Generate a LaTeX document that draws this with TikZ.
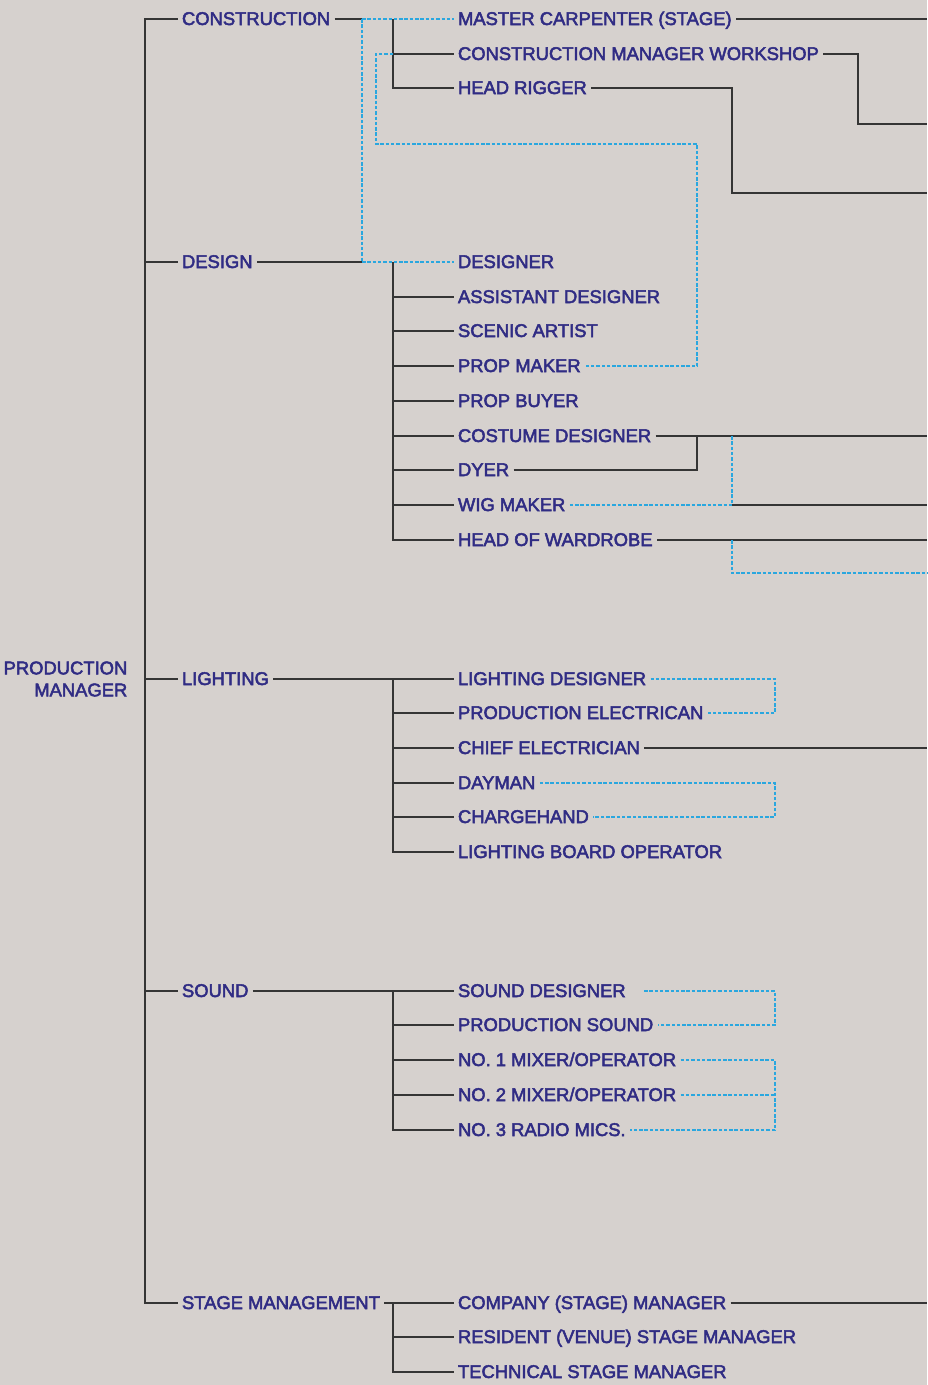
\documentclass[tikz,border=0pt]{standalone}
\usepackage{fontspec}
\setmainfont{Liberation Sans}
\newfontfamily\lblfont{Liberation Sans}
\newcommand{\strokeon}{\special{pdf:literal direct 2 Tr 0.5 w}}
\newcommand{\strokeoff}{\special{pdf:literal direct 0 Tr}}
\definecolor{bgc}{HTML}{D6D1CE}
\definecolor{txt}{HTML}{302C84}
\definecolor{dsh}{HTML}{2AA7DF}
\definecolor{lnc}{HTML}{353535}
\begin{document}
\begin{tikzpicture}[x=1pt,y=-1pt,
  lbl/.style={anchor=west, inner sep=0pt, outer xsep=4.5pt, text height=12pt, text depth=0pt,
    font=\lblfont\fontsize{18.4}{22}\selectfont, text=txt,
    execute at begin node=\strokeon, execute at end node=\strokeoff},
  head/.style={anchor=east, inner sep=0pt, align=right, font=\lblfont\fontsize{18.4}{22}\selectfont, text=txt,
    execute at begin node=\strokeon, execute at end node=\strokeoff},
  solid line/.style={draw=lnc, line width=1.3pt},
  dotted link/.style={draw=dsh, line width=1.2pt, dash pattern=on 3.5pt off 1.8pt}]
\fill[bgc] (0,0) rectangle (927,1385);
\useasboundingbox (0,0) rectangle (927,1385);

% head
\node[head] (pm) at (127.5,679) {PRODUCTION\\MANAGER};

% departments
\node[lbl] (cons) at (177.5,19) {CONSTRUCTION};
\node[lbl] (desg) at (177.5,262) {DESIGN};
\node[lbl] (ligh) at (177.5,679) {LIGHTING};
\node[lbl] (snd) at (177.5,991) {SOUND};
\node[lbl] (stm) at (177.5,1303) {STAGE MANAGEMENT};

% construction
\node[lbl] (mcar) at (453.5,19) {MASTER CARPENTER (STAGE)};
\node[lbl] (cmw) at (453.5,54) {CONSTRUCTION MANAGER WORKSHOP};
\node[lbl] (hrig) at (453.5,88) {HEAD RIGGER};
% design
\node[lbl] (dsgr) at (453.5,262) {DESIGNER};
\node[lbl] (adsg) at (453.5,297) {ASSISTANT DESIGNER};
\node[lbl] (scart) at (453.5,331) {SCENIC ARTIST};
\node[lbl] (pmak) at (453.5,366) {PROP MAKER};
\node[lbl] (pbuy) at (453.5,401) {PROP BUYER};
\node[lbl] (cdsg) at (453.5,436) {COSTUME DESIGNER};
\node[lbl] (dyer) at (453.5,470) {DYER};
\node[lbl] (wig) at (453.5,505) {WIG MAKER};
\node[lbl] (hwar) at (453.5,540) {HEAD OF WARDROBE};
% lighting
\node[lbl] (ldsg) at (453.5,679) {LIGHTING DESIGNER};
\node[lbl] (pel) at (453.5,713) {PRODUCTION ELECTRICAN};
\node[lbl] (cel) at (453.5,748) {CHIEF ELECTRICIAN};
\node[lbl] (day) at (453.5,783) {DAYMAN};
\node[lbl] (chg) at (453.5,817) {CHARGEHAND};
\node[lbl] (lbo) at (453.5,852) {LIGHTING BOARD OPERATOR};
% sound
\node[lbl] (sdsg) at (453.5,991) {SOUND DESIGNER};
\node[lbl] (psnd) at (453.5,1025) {PRODUCTION SOUND};
\node[lbl] (mix1) at (453.5,1060) {NO. 1 MIXER/OPERATOR};
\node[lbl] (mix2) at (453.5,1095) {NO. 2 MIXER/OPERATOR};
\node[lbl] (rmic) at (453.5,1130) {NO. 3 RADIO MICS.};
% stage management
\node[lbl] (csm) at (453.5,1303) {COMPANY (STAGE) MANAGER};
\node[lbl] (rsm) at (453.5,1337) {RESIDENT (VENUE) STAGE MANAGER};
\node[lbl] (tsm) at (453.5,1372) {TECHNICAL STAGE MANAGER};

% junction coordinates
\coordinate (cj) at (362,19);
\coordinate (dj) at (362,262);
\coordinate (sdstart) at (644,991);

% trunk
\draw[solid line] (cons.west) -- (145,19) -- (145,1303) -- (stm.west);
\draw[solid line] (145,262) -- (desg.west);
\draw[solid line] (145,679) -- (ligh.west);
\draw[solid line] (145,991) -- (snd.west);

% construction
\draw[solid line] (cons.east) -- (cj);
\draw[dotted link] (cj) -- (mcar.west);
\draw[dotted link] (cj) -- (dj);
\draw[solid line] (393,19) -- (393,88) -- (hrig.west);
\draw[solid line] (393,54) -- (cmw.west);
\draw[dotted link] (393,54) -- (376,54) -- (376,144) -- (697,144) -- (697,366) -- (pmak.east);
\draw[solid line] (mcar.east) -- (927,19);
\draw[solid line] (cmw.east) -- (858,54) -- (858,124) -- (927,124);
\draw[solid line] (hrig.east) -- (732,88) -- (732,193) -- (927,193);

% design
\draw[solid line] (desg.east) -- (dj);
\draw[dotted link] (dj) -- (dsgr.west);
\draw[solid line] (393,262) -- (393,540) -- (hwar.west);
\foreach \n/\y in {adsg/297,scart/331,pmak/366,pbuy/401,cdsg/436,dyer/470,wig/505}
  \draw[solid line] (393,\y) -- (\n.west);
\draw[solid line] (cdsg.east) -- (927,436);
\draw[solid line] (dyer.east) -- (697,470) -- (697,436);
\draw[dotted link] (wig.east) -- (732,505);
\draw[dotted link] (732,436) -- (732,505);
\draw[solid line] (732,505) -- (927,505);
\draw[solid line] (hwar.east) -- (927,540);
\draw[dotted link] (732,540) -- (732,573) -- (927,573);

% lighting
\draw[solid line] (ligh.east) -- (393,679) -- (393,852) -- (lbo.west);
\foreach \n/\y in {ldsg/679,pel/713,cel/748,day/783,chg/817}
  \draw[solid line] (393,\y) -- (\n.west);
\draw[dotted link] (ldsg.east) -- (775,679) -- (775,713) -- (pel.east);
\draw[solid line] (cel.east) -- (927,748);
\draw[dotted link] (day.east) -- (775,783) -- (775,817) -- (chg.east);

% sound
\draw[solid line] (snd.east) -- (393,991) -- (393,1130) -- (rmic.west);
\foreach \n/\y in {sdsg/991,psnd/1025,mix1/1060,mix2/1095}
  \draw[solid line] (393,\y) -- (\n.west);
\draw[dotted link] (sdstart) -- (775,991) -- (775,1025) -- (psnd.east);
\draw[dotted link] (mix1.east) -- (775,1060) -- (775,1130) -- (rmic.east);
\draw[dotted link] (mix2.east) -- (775,1095);

% stage management
\draw[solid line] (stm.east) -- (393,1303) -- (393,1372) -- (tsm.west);
\draw[solid line] (393,1303) -- (csm.west);
\draw[solid line] (393,1337) -- (rsm.west);
\draw[solid line] (csm.east) -- (927,1303);
\end{tikzpicture}
\end{document}
